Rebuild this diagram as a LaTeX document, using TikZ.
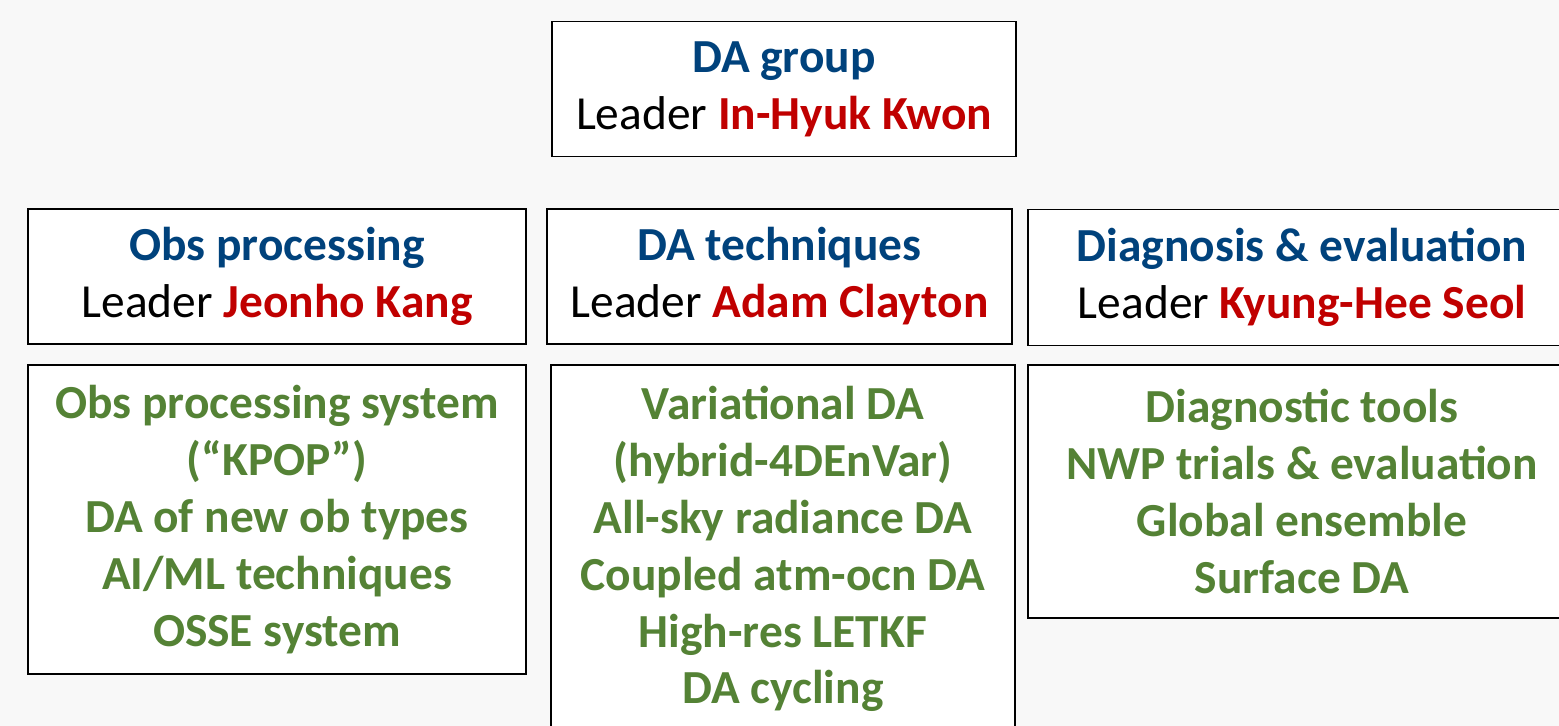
\documentclass[tikz,border=0pt]{standalone}
\usepackage{fontspec}
\setmainfont{Carlito}
\usepackage{tikz}
\usetikzlibrary{positioning}

\definecolor{headblue}{RGB}{0,66,124}
\definecolor{namered}{RGB}{192,0,0}
\definecolor{taskgreen}{RGB}{84,130,53}
\definecolor{pagegray}{RGB}{248,248,248}

\begin{document}
\begin{tikzpicture}[
        x=0.02cm, y=-0.02cm,
        box/.style={rectangle, draw=black, fill=white, line width=1.1pt, inner sep=0pt, align=center, font=\fontsize{27pt}{32.4pt}\selectfont},
        headbox/.style={box, minimum height=2.7cm},
        taskbox/.style={box, text=taskgreen, font=\fontsize{27pt}{32.4pt}\selectfont\bfseries},
    ]
        \fill[pagegray] (0,0) rectangle (1559,726);
        \useasboundingbox (0,0) rectangle (1559,726);
        \clip (0,0) rectangle (1559,726);

        \node[headbox, minimum width=9.28cm] (group) at (784,89)
            {\textcolor{headblue}{\bfseries DA group}\\Leader \textcolor{namered}{\bfseries In-Hyuk Kwon}};

        \node[headbox, minimum width=9.96cm] (obs) at (277,276.5)
            {\textcolor{headblue}{\bfseries Obs processing}\\Leader \textcolor{namered}{\bfseries Jeonho Kang}};
        \node[headbox, minimum width=9.3cm] (tech) at (779.5,276.5)
            {\textcolor{headblue}{\bfseries DA techniques}\\Leader \textcolor{namered}{\bfseries Adam Clayton}};
        \node[headbox, minimum width=10.96cm, minimum height=2.72cm] (diag) at (1302,277.5)
            {\textcolor{headblue}{\bfseries Diagnosis \& evaluation}\\Leader \textcolor{namered}{\bfseries Kyung-Hee Seol}};

        % task lists
        \node[taskbox, minimum width=9.96cm, minimum height=6.18cm] (obs_tasks) at (277,519.5)
            {Obs processing system\\(“KPOP”)\\DA of new ob types\\AI/ML techniques\\OSSE system};
        \node[taskbox, minimum width=9.28cm, minimum height=7.36cm] (tech_tasks) at (783,549)
            {Variational DA\\(hybrid-4DEnVar)\\All-sky radiance DA\\Coupled atm-ocn DA\\High-res LETKF\\DA cycling};
        \node[taskbox, minimum width=10.96cm, minimum height=5.06cm] (diag_tasks) at (1302,491.5)
            {Diagnostic tools\\NWP trials \& evaluation\\Global ensemble\\Surface DA};
    \end{tikzpicture}
\end{document}
